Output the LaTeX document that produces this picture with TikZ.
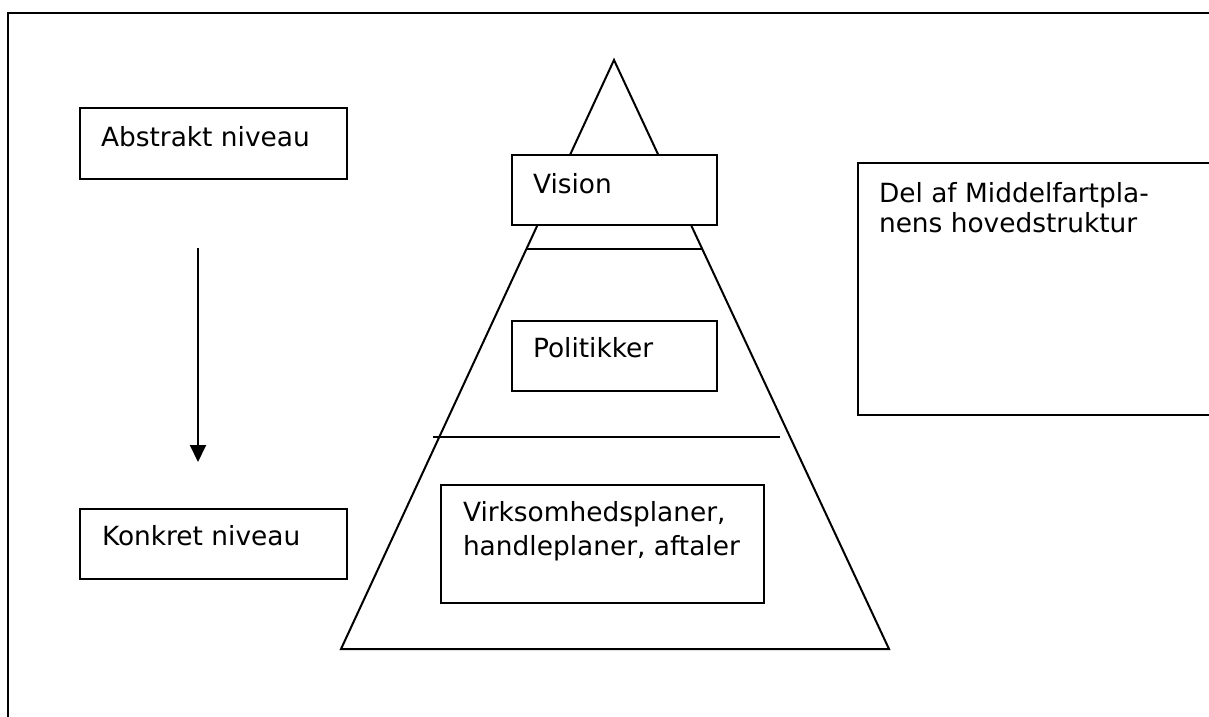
\documentclass[tikz,border=0pt]{standalone}
\usepackage{fontspec}
\setmainfont{DejaVu Sans}
\usetikzlibrary{arrows.meta}
\begin{document}
\begin{tikzpicture}[x=1pt,y=-1pt,
  line width=2pt,
  box/.style={draw=black, fill=white, line width=2pt, inner sep=0pt, outer sep=0pt},
  lbl/.style={inner sep=0pt, outer sep=0pt, anchor=base west, font=\fontsize{26.4}{30}\selectfont}]
\useasboundingbox (0,0) rectangle (1209,716);
\clip (0,0) rectangle (1209,716);
\fill[white] (0,0) rectangle (1209,716);
% outer frame
\coordinate (fbl) at (8,730);
\coordinate (ftl) at (8,12.5);
\coordinate (ftr) at (1230,12.5);
\draw (fbl) -- (ftl) -- (ftr);
% pyramid
\coordinate (apex) at (614,60);
\coordinate (bl) at (341,649);
\coordinate (br) at (889,649);
\draw[line join=miter] (apex) -- (bl) -- (br) -- cycle;
\coordinate (l1a) at (527,249);
\coordinate (l1b) at (702,249);
\draw (l1a) -- (l1b);
\coordinate (l2a) at (433,437);
\coordinate (l2b) at (780,437);
\draw (l2a) -- (l2b);
% boxes
\node[box, minimum width=267pt, minimum height=71pt] (abs) at (213.5,143.5) {};
\node[lbl] (abstxt) at (101,146) {Abstrakt niveau};
\node[box, minimum width=267pt, minimum height=70pt] (konk) at (213.5,544) {};
\node[lbl] (konktxt) at (102,545) {Konkret niveau};
\node[box, minimum width=205pt, minimum height=70pt] (vis) at (614.5,190) {};
\node[lbl] (vistxt) at (533,193) {Vision};
\node[box, minimum width=205pt, minimum height=70pt] (pol) at (614.5,356) {};
\node[lbl] (poltxt) at (533,357) {Politikker};
\node[box, minimum width=323pt, minimum height=118pt] (virk) at (602.5,544) {};
\node[lbl] (virktxt1) at (463,521) {Virksomhedsplaner,};
\node[lbl] (virktxt2) at (463,555) {handleplaner, aftaler};
\draw[box] (858,163) rectangle (1230,415);
\node[lbl] (deltxt1) at (879,202) {Del af Middelfartpla-};
\node[lbl] (deltxt2) at (879,232) {nens hovedstruktur};
% arrow
\coordinate (ar1) at (198,248);
\coordinate (ar2) at (198,462);
\draw[-{Triangle[width=16pt,length=17pt]}] (ar1) -- (ar2);
\end{tikzpicture}
\end{document}
